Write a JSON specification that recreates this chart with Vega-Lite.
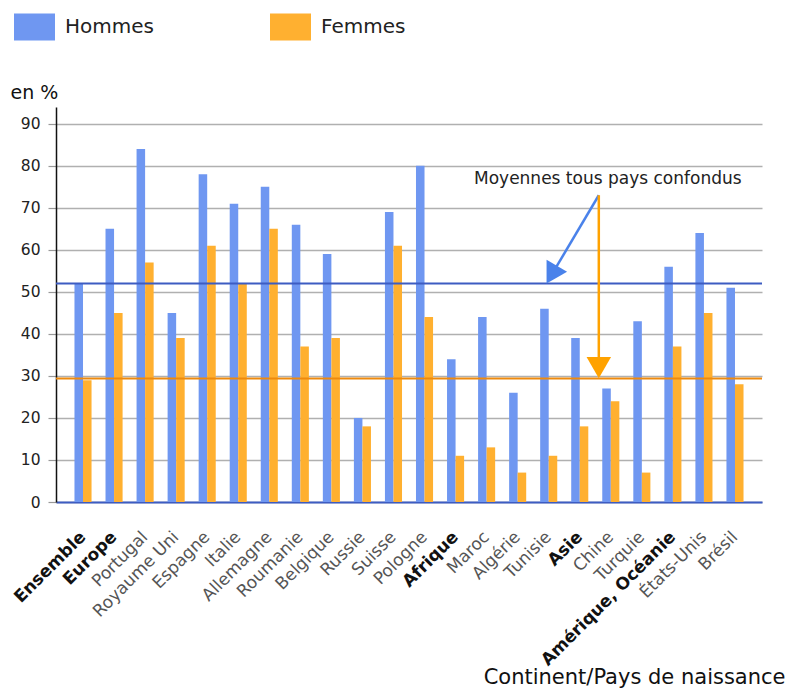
{
  "$schema": "https://vega.github.io/schema/vega-lite/v6.json",
  "autosize": "none",
  "width": 706,
  "height": 395,
  "padding": {"left": 56, "top": 107, "right": 23, "bottom": 186},
  "config": {
    "font": "DejaVu Sans",
    "view": {"stroke": null},
    "axis": {"labelFont": "DejaVu Sans", "titleFont": "DejaVu Sans"}
  },
  "datasets": {
    "taux": [
      {"pays": "Ensemble", "sexe": "Hommes", "pct": 52}, {"pays": "Ensemble", "sexe": "Femmes", "pct": 29},
      {"pays": "Europe", "sexe": "Hommes", "pct": 65}, {"pays": "Europe", "sexe": "Femmes", "pct": 45},
      {"pays": "Portugal", "sexe": "Hommes", "pct": 84}, {"pays": "Portugal", "sexe": "Femmes", "pct": 57},
      {"pays": "Royaume Uni", "sexe": "Hommes", "pct": 45}, {"pays": "Royaume Uni", "sexe": "Femmes", "pct": 39},
      {"pays": "Espagne", "sexe": "Hommes", "pct": 78}, {"pays": "Espagne", "sexe": "Femmes", "pct": 61},
      {"pays": "Italie", "sexe": "Hommes", "pct": 71}, {"pays": "Italie", "sexe": "Femmes", "pct": 52},
      {"pays": "Allemagne", "sexe": "Hommes", "pct": 75}, {"pays": "Allemagne", "sexe": "Femmes", "pct": 65},
      {"pays": "Roumanie", "sexe": "Hommes", "pct": 66}, {"pays": "Roumanie", "sexe": "Femmes", "pct": 37},
      {"pays": "Belgique", "sexe": "Hommes", "pct": 59}, {"pays": "Belgique", "sexe": "Femmes", "pct": 39},
      {"pays": "Russie", "sexe": "Hommes", "pct": 20}, {"pays": "Russie", "sexe": "Femmes", "pct": 18},
      {"pays": "Suisse", "sexe": "Hommes", "pct": 69}, {"pays": "Suisse", "sexe": "Femmes", "pct": 61},
      {"pays": "Pologne", "sexe": "Hommes", "pct": 80}, {"pays": "Pologne", "sexe": "Femmes", "pct": 44},
      {"pays": "Afrique", "sexe": "Hommes", "pct": 34}, {"pays": "Afrique", "sexe": "Femmes", "pct": 11},
      {"pays": "Maroc", "sexe": "Hommes", "pct": 44}, {"pays": "Maroc", "sexe": "Femmes", "pct": 13},
      {"pays": "Algérie", "sexe": "Hommes", "pct": 26}, {"pays": "Algérie", "sexe": "Femmes", "pct": 7},
      {"pays": "Tunisie", "sexe": "Hommes", "pct": 46}, {"pays": "Tunisie", "sexe": "Femmes", "pct": 11},
      {"pays": "Asie", "sexe": "Hommes", "pct": 39}, {"pays": "Asie", "sexe": "Femmes", "pct": 18},
      {"pays": "Chine", "sexe": "Hommes", "pct": 27}, {"pays": "Chine", "sexe": "Femmes", "pct": 24},
      {"pays": "Turquie", "sexe": "Hommes", "pct": 43}, {"pays": "Turquie", "sexe": "Femmes", "pct": 7},
      {"pays": "Amérique, Océanie", "sexe": "Hommes", "pct": 56}, {"pays": "Amérique, Océanie", "sexe": "Femmes", "pct": 37},
      {"pays": "États-Unis", "sexe": "Hommes", "pct": 64}, {"pays": "États-Unis", "sexe": "Femmes", "pct": 45},
      {"pays": "Brésil", "sexe": "Hommes", "pct": 51}, {"pays": "Brésil", "sexe": "Femmes", "pct": 28}
    ]
  },
  "layer": [
    {
      "data": {"name": "taux"},
      "mark": {"type": "bar"},
      "encoding": {
        "x": {
          "field": "pays", "type": "nominal",
          "scale": {
            "domain": ["Ensemble", "Europe", "Portugal", "Royaume Uni", "Espagne", "Italie", "Allemagne", "Roumanie", "Belgique", "Russie", "Suisse", "Pologne", "Afrique", "Maroc", "Algérie", "Tunisie", "Asie", "Chine", "Turquie", "Amérique, Océanie", "États-Unis", "Brésil"],
            "paddingInner": 0.45, "paddingOuter": 0.595
          },
          "axis": {
            "title": "Continent/Pays de naissance",
            "titleX": 729, "titleY": 181, "titleAlign": "right", "titleAnchor": null, "titleBaseline": "alphabetic",
            "titleFontSize": 21, "titleFontWeight": "normal", "titleColor": "#111",
            "labelAngle": -45, "labelAlign": "right", "labelBaseline": "middle",
            "labelPadding": 32, "ticks": false,
            "labelFontSize": 17,
            "labelFontWeight": {"condition": {"test": "indexof(['Ensemble','Europe','Afrique','Asie','Amérique, Océanie'], datum.value) >= 0", "value": "bold"}, "value": "normal"},
            "labelColor": {"condition": {"test": "indexof(['Ensemble','Europe','Afrique','Asie','Amérique, Océanie'], datum.value) >= 0", "value": "#111"}, "value": "#555"},
            "domainColor": "#3d5cc2", "domainWidth": 2, "grid": false, "labelLimit": 300
          }
        },
        "xOffset": {"field": "sexe", "type": "nominal", "sort": ["Hommes", "Femmes"]},
        "y": {
          "field": "pct", "type": "quantitative",
          "scale": {"domain": [0, 94], "nice": false},
          "axis": {
            "title": "en %", "titleAngle": 0, "titleX": -46, "titleY": -9, "titleAlign": "left", "titleAnchor": null,
            "titleBaseline": "alphabetic", "titleFontSize": 19, "titleFontWeight": "normal", "titleColor": "#111",
            "values": [0, 10, 20, 30, 40, 50, 60, 70, 80, 90],
            "labelFontSize": 15.5, "labelColor": "#222", "labelPadding": 8,
            "tickSize": 8, "tickColor": "#999", "tickWidth": 1.2,
            "domainColor": "#111", "domainWidth": 1.5,
            "grid": true, "gridColor": "#b0b0b0", "gridWidth": 1.3
          }
        },
        "color": {
          "field": "sexe", "type": "nominal",
          "scale": {"domain": ["Hommes", "Femmes"], "range": ["#6f97f1", "#ffb030"]},
          "legend": {
            "orient": "none", "legendX": -42, "legendY": -101, "direction": "horizontal", "title": null,
            "symbolType": "M-1,-0.66L1,-0.66L1,0.66L-1,0.66Z", "symbolSize": 1681, "symbolStrokeWidth": 0, "symbolOpacity": 1,
            "labelFontSize": 20, "labelOffset": 10, "labelColor": "#222", "columnPadding": 116, "padding": 0
          }
        }
      }
    },
    {
      "data": {"values": [{"moyenne": 52}]},
      "mark": {"type": "rule", "color": "#3d5cc2", "strokeWidth": 2},
      "encoding": {"y": {"field": "moyenne", "type": "quantitative"}}
    },
    {
      "data": {"values": [{"moyenne": 29.4}]},
      "mark": {"type": "rule", "color": "#ee8a0e", "strokeWidth": 2},
      "encoding": {"y": {"field": "moyenne", "type": "quantitative"}}
    },
    {
      "data": {"values": [{"pays": "Chine", "y": 76.8, "texte": "Moyennes tous pays confondus"}]},
      "mark": {"type": "text", "fontSize": 17, "color": "#222", "dx": -3, "align": "center", "baseline": "middle"},
      "encoding": {
        "x": {"field": "pays", "type": "nominal"},
        "y": {"field": "y", "type": "quantitative"},
        "text": {"field": "texte"}
      }
    },
    {
      "data": {"values": [{"de": "Chine", "a": "Tunisie", "y": 73, "y2": 54.1}]},
      "mark": {"type": "rule", "color": "#4a82ea", "strokeWidth": 2.5, "xOffset": -12, "x2Offset": 3},
      "encoding": {
        "x": {"field": "de", "type": "nominal"},
        "x2": {"field": "a"},
        "y": {"field": "y", "type": "quantitative"},
        "y2": {"field": "y2"}
      }
    },
    {
      "data": {"values": [{"pays": "Tunisie", "y": 54.1}]},
      "mark": {"type": "point", "shape": "triangle-down", "filled": true, "opacity": 1, "color": "#4a82ea", "size": 560, "angle": 30, "xOffset": 3},
      "encoding": {
        "x": {"field": "pays", "type": "nominal"},
        "y": {"field": "y", "type": "quantitative"}
      }
    },
    {
      "data": {"values": [{"pays": "Chine", "y": 73, "y2": 32}]},
      "mark": {"type": "rule", "color": "#ffa200", "strokeWidth": 2.5, "xOffset": -12},
      "encoding": {
        "x": {"field": "pays", "type": "nominal"},
        "y": {"field": "y", "type": "quantitative"},
        "y2": {"field": "y2"}
      }
    },
    {
      "data": {"values": [{"pays": "Chine", "y": 32}]},
      "mark": {"type": "point", "shape": "triangle-down", "filled": true, "opacity": 1, "color": "#ffa200", "size": 600, "xOffset": -12},
      "encoding": {
        "x": {"field": "pays", "type": "nominal"},
        "y": {"field": "y", "type": "quantitative"}
      }
    }
  ]
}
